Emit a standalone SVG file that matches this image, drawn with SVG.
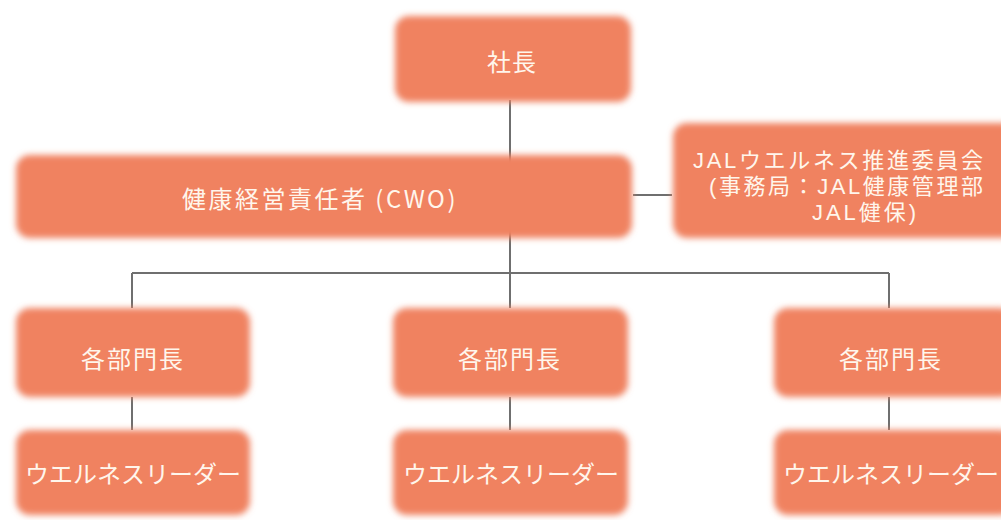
<svg xmlns="http://www.w3.org/2000/svg" width="1001" height="520" viewBox="0 0 1001 520">
<style>
.box{fill:#F08261;filter:url(#soft)}
.t{font-family:"Noto Sans CJK JP","Noto Sans",sans-serif;font-size:24px;fill:#FFF6EC;text-anchor:middle;dominant-baseline:central}
.s{font-family:"Liberation Sans","Noto Sans CJK JP",sans-serif;font-size:22px}
.c{stroke:#6f6f6f;stroke-width:2;fill:none}
</style>
<defs>
<filter id="soft" x="-10%" y="-20%" width="120%" height="140%">
<feGaussianBlur stdDeviation="3.2"/>
</filter>
</defs>
<rect width="1001" height="520" fill="#ffffff"/>
<g id="connectors">
<path class="c" d="M510 100V308M132 273H889M132 273V308M889 273V308M132 397V430M510 397V430M889 397V430M633 195H672"/>
</g>
<g id="president">
<rect class="box" x="395" y="16" width="236" height="86" rx="14"/>
<text class="t" x="512" y="60" letter-spacing="1">社長</text>
</g>
<g id="cwo">
<rect class="box" x="16" y="155" width="616" height="83" rx="14"/>
<text class="t" x="320" y="197" letter-spacing="2.5">健康経営責任者 (CWO)</text>
</g>
<g id="committee">
<rect class="box" x="673" y="123" width="345" height="115" rx="14"/>
<text class="t s" x="838" y="160" textLength="290" lengthAdjust="spacing">JALウエルネス推進委員会</text>
<text class="t s" x="846" y="186" textLength="274" lengthAdjust="spacing">(事務局：JAL健康管理部</text>
<text class="t s" x="864" y="212" textLength="104" lengthAdjust="spacing">JAL健保)</text>
</g>
<g id="dept1">
<rect class="box" x="16" y="308" width="234" height="89" rx="14"/>
<text class="t" x="133" y="357" letter-spacing="2">各部門長</text>
</g>
<g id="dept2">
<rect class="box" x="393" y="308" width="235" height="89" rx="14"/>
<text class="t" x="510" y="357" letter-spacing="2">各部門長</text>
</g>
<g id="dept3">
<rect class="box" x="774" y="308" width="240" height="89" rx="14"/>
<text class="t" x="891" y="357" letter-spacing="2">各部門長</text>
</g>
<g id="leader1">
<rect class="box" x="16" y="430" width="234" height="85" rx="14"/>
<text class="t" x="133" y="472">ウエルネスリーダー</text>
</g>
<g id="leader2">
<rect class="box" x="393" y="430" width="235" height="85" rx="14"/>
<text class="t" x="511" y="472">ウエルネスリーダー</text>
</g>
<g id="leader3">
<rect class="box" x="774" y="430" width="240" height="85" rx="14"/>
<text class="t" x="891" y="472">ウエルネスリーダー</text>
</g>
</svg>
